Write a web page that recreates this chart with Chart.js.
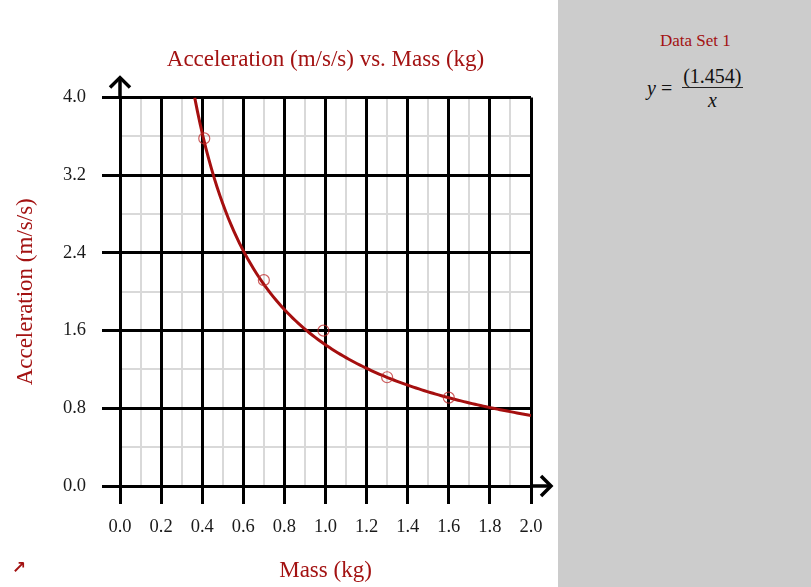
<!DOCTYPE html>
<html>
<head>
<meta charset="utf-8">
<script src="https://cdn.jsdelivr.net/npm/chart.js@4"></script>
<style>
    body { margin: 0; width: 811px; height: 587px; overflow: hidden; background: #fff; font-family: "Liberation Serif", serif; }
    #wrap { position: absolute; left: 0; top: 0; width: 558px; height: 587px; }
    #panel { position: absolute; left: 558px; top: 0; width: 253px; height: 587px; background: #cccccc; }
    #setname { position: absolute; left: 102px; top: 31px; font-size: 17px; color: #a31212; }
    #eq { position: absolute; left: 89px; top: 66px; display: flex; align-items: center; font-size: 20px; color: #111; }
    #eq .frac { display: inline-flex; flex-direction: column; align-items: center; margin-left: 10px; }
    #eq .num { line-height: 20px; padding: 0 1px 1px 1px; border-bottom: 1px solid #222; }
    #eq .den { line-height: 20px; padding-top: 2px; font-style: italic; }
    #corner { position: absolute; left: 12px; top: 557px; font-size: 17px; font-weight: bold; color: #a31212; font-family: "DejaVu Sans", sans-serif; }
</style>
</head>
<body>
<div id="wrap"><canvas id="chart" width="558" height="587"></canvas></div>
<div id="panel">
    <div id="setname">Data Set 1</div>
    <div id="eq"><i>y</i>&nbsp;=<span class="frac"><span class="num">(1.454)</span><span class="den">x</span></span></div>
</div>
<div id="corner">↗</div>
<script>
// measured points (mass kg, acceleration m/s/s)
const massData = [0.41, 0.70, 0.99, 1.30, 1.60];
const accelData = [3.58, 2.12, 1.60, 1.12, 0.91];

// fit shown in the side panel: y = fitCoef / x
const fitCoef = 1.454;

const xMin = 0, xMax = 2, xStep = 0.1;
const yMin = 0, yMax = 4, yStep = 0.4;

const red = '#a31212';
const serif = '"Liberation Serif", "Times New Roman", serif';

// points of the fitted curve, from where it enters the plot to the right edge
var fitPoints = [];
var xStart = fitCoef / yMax;
for (let i = 0; i <= 120; i++) {
    let xv = xStart + (xMax - xStart) * i / 120;
    fitPoints.push({ x: xv, y: fitCoef / xv });
}

var isMajor = (ctx) => ctx.index % 2 === 0;

// light minor grid, drawn first so the black lines sit on top
var minorGrid = {
    id: 'minorGrid',
    beforeDraw(chart) {
        const { ctx, chartArea: { left, right, top, bottom }, scales: { x, y } } = chart;
        ctx.save();
        ctx.strokeStyle = '#d9d9d9';
        ctx.lineWidth = 2;
        x.ticks.forEach((t, i) => {
            if (i % 2 === 1) {
                let px = Math.round(x.getPixelForTick(i));
                ctx.beginPath(); ctx.moveTo(px, top); ctx.lineTo(px, bottom); ctx.stroke();
            }
        });
        y.ticks.forEach((t, i) => {
            if (i % 2 === 1) {
                let py = Math.round(y.getPixelForTick(i));
                ctx.beginPath(); ctx.moveTo(left, py); ctx.lineTo(right, py); ctx.stroke();
            }
        });
        ctx.restore();
    }
};

// axis arrows past the top and right edge
var axisArrows = {
    id: 'axisArrows',
    afterDraw(chart) {
        const { ctx, chartArea: { top, right }, scales: { x, y } } = chart;
        const x0 = x.getPixelForValue(0);
        const y0 = y.getPixelForValue(0);
        ctx.save();
        ctx.strokeStyle = '#000';
        ctx.lineWidth = 3.5;
        ctx.lineJoin = 'miter';
        ctx.beginPath();
        ctx.moveTo(x0, top); ctx.lineTo(x0, top - 20);
        ctx.moveTo(right, y0); ctx.lineTo(right + 20, y0);
        ctx.stroke();
        ctx.beginPath();
        ctx.moveTo(x0 - 10, top - 10); ctx.lineTo(x0, top - 20); ctx.lineTo(x0 + 10, top - 10);
        ctx.stroke();
        ctx.beginPath();
        ctx.moveTo(right + 10, y0 - 10); ctx.lineTo(right + 20, y0); ctx.lineTo(right + 10, y0 + 10);
        ctx.stroke();
        ctx.restore();
    }
};

var gridOpts = {
    color: (ctx) => isMajor(ctx) ? '#000' : 'rgba(0,0,0,0)',
    lineWidth: 3,
    tickColor: (ctx) => isMajor(ctx) ? '#000' : 'rgba(0,0,0,0)',
    tickWidth: 3,
    tickLength: 18
};

var config = {
    type: 'scatter',
    data: {
        datasets: [{
            data: fitPoints,
            showLine: true,
            borderColor: '#a50f0f',
            borderWidth: 3,
            pointRadius: 0,
            tension: 0,
            order: 2
        }, {
            data: massData.map((m, i) => ({ x: m, y: accelData[i] })),
            showLine: false,
            pointRadius: 5.5,
            pointBorderWidth: 1.2,
            pointBorderColor: 'rgba(190,40,40,0.75)',
            pointBackgroundColor: 'rgba(0,0,0,0)',
            order: 1
        }]
    },
    options: {
        responsive: false,
        animation: false,
        layout: { padding: { left: 0, right: 27, top: 0, bottom: 0 } },
        plugins: {
            legend: { display: false },
            tooltip: { enabled: false },
            title: {
                display: true,
                fullSize: false,
                text: 'Acceleration (m/s/s) vs. Mass (kg)',
                color: red,
                font: { family: serif, size: 23, weight: 'normal' },
                padding: { top: 46, bottom: 24 }
            }
        },
        scales: {
            x: {
                type: 'linear',
                min: xMin,
                max: xMax,
                afterFit: (s) => { s.height = 101; },
                border: { display: false },
                grid: gridOpts,
                ticks: {
                    stepSize: xStep,
                    autoSkip: false,
                    maxRotation: 0,
                    padding: 12,
                    color: '#1a1a1a',
                    font: { family: serif, size: 18.5 },
                    callback: (v, i) => i % 2 === 0 ? Number(v).toFixed(1) : ''
                },
                title: {
                    display: true,
                    text: 'Mass (kg)',
                    color: red,
                    font: { family: serif, size: 23 },
                    padding: { top: 0, bottom: 2 }
                }
            },
            y: {
                type: 'linear',
                min: yMin,
                max: yMax,
                afterFit: (s) => { s.width = 120; },
                border: { display: false },
                grid: gridOpts,
                ticks: {
                    stepSize: yStep,
                    autoSkip: false,
                    padding: 16,
                    color: '#1a1a1a',
                    font: { family: serif, size: 18.5 },
                    callback: (v, i) => i % 2 === 0 ? Number(v).toFixed(1) : ''
                },
                title: {
                    display: true,
                    text: 'Acceleration (m/s/s)',
                    color: red,
                    font: { family: serif, size: 23 },
                    padding: { top: 12, bottom: 0 }
                }
            }
        }
    },
    plugins: [minorGrid, axisArrows]
};

new Chart(document.getElementById('chart'), config);
</script>
</body>
</html>
